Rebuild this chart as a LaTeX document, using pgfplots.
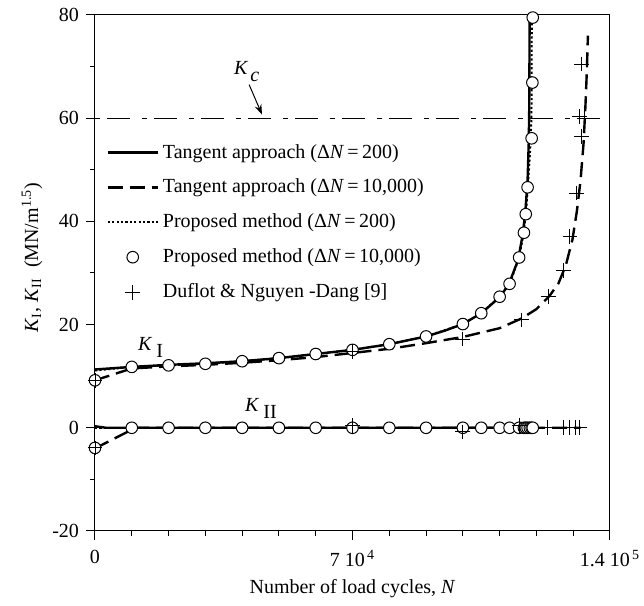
\documentclass[border=0pt]{standalone}
\usepackage{fontspec}
\setmainfont{Liberation Serif}
\usepackage{pgfplots}
\pgfplotsset{compat=1.18}
\usetikzlibrary{arrows.meta}

\pgfplotsset{
  lineleg/.style={legend image code/.code={\draw[##1] (0pt,0pt) -- (25pt,0pt);}},
  markleg/.style={legend image code/.code={\draw[mark repeat=2,mark phase=2,##1] plot coordinates {(0pt,0pt) (12.5pt,0pt) (25pt,0pt)};}},
}

\begin{document}
\begin{tikzpicture}
\begin{axis}[
  name=ax,
  scale only axis, width=257.5pt, height=258pt,
  xmin=0, xmax=140000, ymin=-20, ymax=80,
  xtick={0,70000,140000},
  xticklabels={0, {7 10\textsuperscript{\,4}}, {1.4 10\textsuperscript{\,5}}},
  minor xtick={10000,20000,...,130000},
  ytick={-20,0,20,40,60,80},
  yticklabels={-20,0,20,40,60,80},
  minor ytick={-10,10,30,50,70},
  xtick pos=bottom, ytick pos=left, tick align=outside,
  major tick length=4.5pt, minor tick length=2.5pt,
  tick style={black, line width=0.5pt},
  axis line style={line width=0.5pt},
  scaled x ticks=false,
  font=\fontsize{10}{12}\selectfont,
  xticklabel style={yshift=-1.5pt},
  xlabel={Number of load cycles, \textit{N}},
  xlabel style={at={(rel axis cs:0.5,0)}, anchor=center, yshift=-29pt},
  ylabel={\textit{K}\textsubscript{I}, \textit{K}\textsubscript{II}\ \ (MN/m\textsuperscript{1.5})},
  ylabel style={at={(rel axis cs:0,0.53)}, anchor=center, yshift=31.5pt},
  clip=false,
  legend style={draw=none, fill=none, at={(rel axis cs:0.01,0.766)}, anchor=north west,
    row sep=5pt, font=\fontsize{10}{12}\selectfont},
  legend cell align=left,
]
% K_c level
\addplot[forget plot, line width=0.6pt, dash pattern=on 2.5pt off 3.5pt on 11.5pt off 6pt]
  coordinates {(0,60) (140000,60)};

% ---- K_I ----
\addplot[lineleg, black, line width=1.2pt] coordinates {
(0,11.3) (2000,11.4) (10000,11.8) (20000,12.2) (30000,12.5) (40000,12.9)
(50000,13.5) (60000,14.3) (70000,15.1) (80000,16.2) (90000,17.7) (95000,18.8)
(100000,20.1) (105000,22.2) (110000,25.3) (112500,27.8) (115000,32.5)
(116300,37.5) (117000,42) (117600,48) (117900,55) (118050,62) (118100,70) (118150,80)
};
\addlegendentry{Tangent approach (Δ\textit{N}\,=\,200)}

\addplot[lineleg, black, line width=1.2pt, dash pattern=on 7.5pt off 3.5pt] coordinates {
(0,9.2) (10000,11.5) (20000,11.9) (30000,12.2) (40000,12.6) (50000,13.1)
(60000,13.7) (70000,14.5) (80000,15.3) (90000,16.4) (100000,17.6) (110000,19.3)
(116000,21.2) (120000,23.0) (123500,25.5) (126000,28) (128000,31.5) (129800,36.5)
(131000,42) (132000,48) (132800,55) (133300,62) (133700,69) (134000,76)
};
\addlegendentry{Tangent approach (Δ\textit{N}\,=\,10,000)}

\addplot[lineleg, black, line width=1pt, dash pattern=on 1.1pt off 1.1pt] coordinates {
(0,11.1) (10000,11.8) (20000,12.1) (30000,12.4) (40000,12.9) (50000,13.5)
(60000,14.3) (70000,15.1) (80000,16.2) (90000,17.7) (100000,20.1) (105000,22.2)
(110000,25.4) (112800,28) (115300,33) (116600,38) (117300,43) (117800,48)
(118300,54) (118650,60) (118700,70) (118750,80)
};
\addlegendentry{Proposed method (Δ\textit{N}\,=\,200)}

\addplot[markleg, only marks, mark=*, mark size=2.9pt,
  mark options={fill=white, draw=black, line width=0.5pt}] coordinates {
(0,9.2) (10000,11.8) (20000,12.1) (30000,12.4) (40000,12.9) (50000,13.5)
(60000,14.3) (70000,15.1) (80000,16.2) (90000,17.7) (100000,20.1) (105000,22.2)
(110000,25.4) (112700,27.9) (115300,33.0) (116600,37.8) (117100,41.4)
(117600,46.6) (118700,56.1) (118900,66.9) (119000,79.5)
};
\addlegendentry{Proposed method (Δ\textit{N}\,=\,10,000)}

\addplot[markleg, only marks, mark=+, mark size=3.7pt,
  mark options={draw=black, line width=0.45pt}] coordinates {
(0,9.2) (70000,14.8) (100000,17.2) (116000,20.9) (123300,25.5) (127300,30.5)
(129100,37) (130900,45.5) (132200,56.5) (131800,60.3) (133100,60) (132300,70.5)
};
\addlegendentry{Duflot \& Nguyen -Dang [9]}

% ---- K_II ----
\addplot[forget plot, black, line width=1.2pt] coordinates {(0,0.3) (3000,0) (118200,0)};
\addplot[forget plot, black, line width=1.2pt, dash pattern=on 7.5pt off 3.5pt]
  coordinates {(0,-4.0) (11000,0) (132000,0)};
\addplot[forget plot, black, line width=1pt, dash pattern=on 1.1pt off 1.1pt]
  coordinates {(0,0) (119000,0)};
\addplot[forget plot, only marks, mark=*, mark size=2.9pt,
  mark options={fill=white, draw=black, line width=0.5pt}] coordinates {
(0,-3.9) (10000,0) (20000,0) (30000,0) (40000,0) (50000,0) (60000,0) (70000,0)
(80000,0) (90000,0) (100000,0) (105000,0) (110000,0) (112700,0) (115300,0)
(116600,0) (117100,0) (117600,0) (118200,0) (118700,0) (119000,0)
};
\addplot[forget plot, only marks, mark=+, mark size=3.7pt,
  mark options={draw=black, line width=0.45pt}] coordinates {
(0,-3.9) (70000,0.4) (100000,-0.8) (115500,0.5) (123000,0) (127300,0)
(129100,0) (130500,0) (131800,0)
};

% labels
\node[anchor=base west, font=\fontsize{10}{12}\selectfont] at (axis cs:35900,68.4)
  {\textit{K}\hspace{1pt}\raisebox{-3.5pt}{\textit{c}}};
\draw[-{Stealth[length=5pt,width=3.5pt]}, line width=0.5pt]
  (axis cs:41900,66.5) -- (axis cs:45400,60.7);
\node[anchor=base west, font=\fontsize{10}{12}\selectfont] at (axis cs:9800,14.9)
  {\textit{K}\hspace{2pt}\raisebox{-3.5pt}{I}};
\node[anchor=base west, font=\fontsize{10}{12}\selectfont] at (axis cs:38900,3.1)
  {\textit{K}\hspace{2pt}\raisebox{-3.5pt}{II}};
\end{axis}
\pgfresetboundingbox
\path[use as bounding box] ([shift={(-47.5pt,-37.5pt)}]ax.south west)
  rectangle ([shift={(17pt,7.5pt)}]ax.north east);
\end{tikzpicture}
\end{document}
